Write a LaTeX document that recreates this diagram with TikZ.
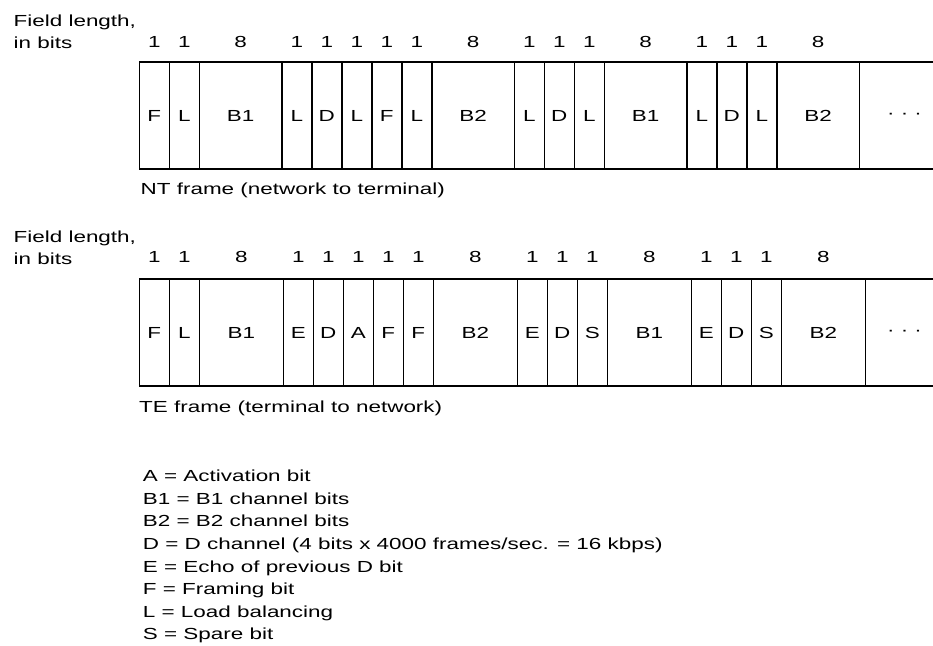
\documentclass[tikz,border=0pt]{standalone}
\usepackage{fontspec}
\setmainfont{Liberation Sans}[FakeStretch=1.4]
\usetikzlibrary{positioning}

\begin{document}
\begin{tikzpicture}[
  every node/.style={font=\fontsize{15.2}{21.4}\selectfont, inner sep=0pt},
  fld/.style={draw, line width=1.5pt, minimum height=3.567cm, outer sep=0pt},
  lenlbl/.style={align=left, anchor=north west}
]
\useasboundingbox (0,0) rectangle (31.1,-21.533);
\coordinate (edge) at (31.1,0);

% NT frame
\node[lenlbl] (ntlen) at (0.45,-0.477) {Field length,\\in bits};
\coordinate (nt0) at (4.643,-3.85);
\coordinate (ntnum) at (0,-1.4);
\foreach \fname/\nbits/\fw [count=\i, remember=\i as \j (initially 0)] in
  {F/1/1, L/1/1, B1/8/2.75, L/1/1, D/1/1, L/1/1, F/1/1, L/1/1, B2/8/2.75,
   L/1/1, D/1/1, L/1/1, B1/8/2.75, L/1/1, D/1/1, L/1/1, B2/8/2.75}
{
  \node[fld, minimum width=\fw cm, right=0pt of nt\j] (nt\i) {\fname};
  \node (ntb\i) at (nt\i |- ntnum) {\nbits};
}
\draw[line width=1.5pt] (nt17.north east) -- (edge |- nt17.north east);
\draw[line width=1.5pt] (nt17.south east) -- (edge |- nt17.south east);
\node (ntdots) at (30.15,-3.85) {· · ·};
\node[anchor=base west] (ntcap) at (4.683,-6.483) {NT frame (network to terminal)};

% TE frame
\node[lenlbl] (telen) at (0.45,-7.677) {Field length,\\in bits};
\coordinate (te0) at (4.643,-11.083);
\coordinate (tenum) at (0,-8.556);
\foreach \fname/\nbits/\fw [count=\i, remember=\i as \j (initially 0)] in
  {F/1/1, L/1/1, B1/8/2.8, E/1/1, D/1/1, A/1/1, F/1/1, F/1/1, B2/8/2.8,
   E/1/1, D/1/1, S/1/1, B1/8/2.8, E/1/1, D/1/1, S/1/1, B2/8/2.8}
{
  \node[fld, minimum width=\fw cm, right=0pt of te\j] (te\i) {\fname};
  \node (teb\i) at (te\i |- tenum) {\nbits};
}
\draw[line width=1.5pt] (te17.north east) -- (edge |- te17.north east);
\draw[line width=1.5pt] (te17.south east) -- (edge |- te17.south east);
\node (tedots) at (30.15,-11.083) {· · ·};
\node[anchor=base west] (tecap) at (4.633,-13.75) {TE frame (terminal to network)};

% key
\node[lenlbl, font=\fontsize{15.2}{21.45}\selectfont] (key) at (4.757,-15.66)
  {A = Activation bit\\
   B1 = B1 channel bits\\
   B2 = B2 channel bits\\
   D = D channel (4 bits x 4000 frames/sec. = 16 kbps)\\
   E = Echo of previous D bit\\
   F = Framing bit\\
   L = Load balancing\\
   S = Spare bit};
\end{tikzpicture}
\end{document}
